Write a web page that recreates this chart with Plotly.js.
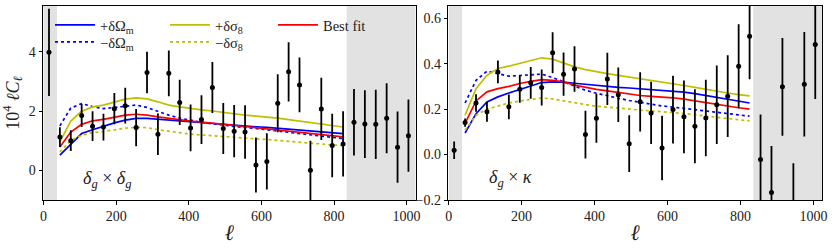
<!DOCTYPE html>
<html>
<head>
<meta charset="utf-8">
<script src="https://cdn.plot.ly/plotly-3.0.1.min.js"></script>
<style>html,body{margin:0;padding:0;background:#fff;}#chart{width:834px;height:250px;}</style>
</head>
<body>
<div id="chart"></div>
<script>
// ---- data ----
const ellData = [15,45,75,105,135,165,195,225,255,285,315,345,375,405,435,465,495,525,555,585,615,645,675,705,735,765,795,825,855,885,915,945,975,1005];
const ggVal = [3.98,1.12,1.00,1.85,1.49,1.46,2.08,2.18,1.44,3.30,1.22,3.27,2.29,1.43,1.71,2.79,1.41,1.32,1.29,0.18,0.30,2.26,3.32,2.88,0.00,2.07,0.84,0.89,1.62,1.56,1.55,1.76,0.78,1.17];
const ggErr = [1.47,0.33,0.35,0.39,0.50,0.45,0.53,0.60,0.63,0.70,0.70,0.77,0.76,0.79,0.82,0.86,0.86,0.88,0.90,0.93,0.95,0.98,1.00,0.92,1.00,1.05,1.07,1.10,1.12,1.14,1.17,1.18,1.20,1.22];
const gkVal = [0.019,0.141,0.227,0.188,0.364,0.210,0.288,0.316,0.295,0.448,0.354,0.377,0.088,0.160,0.333,0.263,0.048,0.232,0.183,0.029,0.198,0.166,0.125,0.161,0.219,0.257,0.389,0.521,-0.022,-0.167,0.298,-0.260,0.310,0.485];
const gkErr = [0.038,0.018,0.038,0.043,0.050,0.054,0.060,0.070,0.079,0.090,0.095,0.100,0.105,0.108,0.115,0.120,0.125,0.130,0.137,0.142,0.149,0.160,0.163,0.168,0.173,0.180,0.185,0.190,0.198,0.205,0.215,0.222,0.230,0.240];

const ellTheory = [45,75,105,135,165,195,225,255,285,315,345,375,405,435,465,495,525,555,585,615,645,675,705,735,765,795,825];
const ggBest   = [0.79,1.29,1.55,1.67,1.72,1.78,1.86,1.89,1.86,1.80,1.75,1.70,1.66,1.63,1.59,1.55,1.51,1.47,1.44,1.41,1.37,1.33,1.29,1.25,1.21,1.17,1.13];
const ggOmPlus = [0.51,0.88,1.24,1.37,1.49,1.60,1.69,1.75,1.75,1.72,1.70,1.67,1.64,1.61,1.58,1.55,1.52,1.49,1.47,1.45,1.42,1.39,1.36,1.33,1.30,1.27,1.24];
const ggOmMinus= [1.50,2.10,2.25,2.15,2.08,2.12,2.18,2.20,2.12,1.98,1.86,1.76,1.68,1.62,1.57,1.52,1.48,1.44,1.41,1.37,1.33,1.28,1.24,1.19,1.15,1.11,1.07];
const ggS8Plus = [0.96,1.66,1.99,2.14,2.20,2.31,2.40,2.44,2.41,2.31,2.20,2.14,2.08,2.04,2.00,1.95,1.90,1.86,1.83,1.80,1.76,1.71,1.66,1.61,1.56,1.51,1.46];
const ggS8Minus= [0.62,1.01,1.18,1.27,1.31,1.37,1.42,1.45,1.44,1.37,1.33,1.27,1.22,1.19,1.17,1.14,1.11,1.08,1.06,1.04,1.01,0.98,0.95,0.92,0.89,0.86,0.83];

const gkBest   = [0.137,0.236,0.276,0.290,0.300,0.313,0.322,0.330,0.327,0.320,0.306,0.296,0.287,0.280,0.273,0.266,0.260,0.256,0.254,0.250,0.244,0.236,0.228,0.220,0.213,0.206,0.200];
const gkOmPlus = [0.095,0.180,0.232,0.254,0.271,0.286,0.300,0.317,0.320,0.319,0.314,0.309,0.304,0.300,0.296,0.293,0.290,0.287,0.284,0.281,0.275,0.268,0.260,0.251,0.243,0.235,0.227];
const gkOmMinus= [0.227,0.327,0.367,0.357,0.345,0.348,0.350,0.354,0.339,0.320,0.300,0.283,0.270,0.258,0.248,0.238,0.229,0.221,0.214,0.209,0.203,0.196,0.190,0.184,0.178,0.173,0.169];
const gkS8Plus = [0.173,0.290,0.349,0.379,0.389,0.401,0.415,0.426,0.420,0.404,0.386,0.374,0.364,0.356,0.349,0.342,0.335,0.327,0.319,0.312,0.304,0.296,0.287,0.279,0.271,0.264,0.258];
const gkS8Minus= [0.107,0.173,0.200,0.213,0.227,0.236,0.244,0.249,0.245,0.236,0.227,0.220,0.213,0.208,0.204,0.200,0.196,0.192,0.189,0.186,0.181,0.175,0.169,0.163,0.158,0.153,0.148];

const maskedRanges = [[0, 37], [835, 1025]];
const legendLabels = ['+δΩ<sub>m</sub>', '−δΩ<sub>m</sub>', '+δσ<sub>8</sub>', '−δσ<sub>8</sub>', 'Best fit'];

// ---- layout helpers ----
const W = 834, H = 250, ML = 43, MR = 12, MT = 6, MB = 50;
const PW = W - ML - MR, PH = H - MT - MB;
const px = p => (p - ML) / PW;
const py = p => 1 - (p - MT) / PH;
const FONT = '"Liberation Serif", serif';
const BLUE = '#0000ff', YEL = '#bfbf00', RED = '#ff0000';

function line(x, y, color, dash, xa, ya, name, leg) {
  return {x: x, y: y, xaxis: xa, yaxis: ya, mode: 'lines', type: 'scatter',
    line: {color: color, width: 1.7, dash: dash}, name: name,
    showlegend: !!leg, legend: leg || 'legend', hoverinfo: 'skip'};
}
function pts(x, y, e, xa, ya) {
  return {x: x, y: y, xaxis: xa, yaxis: ya, mode: 'markers', type: 'scatter', showlegend: false,
    marker: {color: 'black', size: 5},
    error_y: {type: 'data', array: e, visible: true, color: 'black', thickness: 1.8, width: 0}};
}

const traces = [
  line(ellTheory, ggOmPlus, BLUE, 'solid', 'x', 'y', legendLabels[0], 'legend'),
  line(ellTheory, ggOmMinus, BLUE, 'dot', 'x', 'y', legendLabels[1], 'legend2'),
  line(ellTheory, ggS8Plus, YEL, 'solid', 'x', 'y', legendLabels[2], 'legend3'),
  line(ellTheory, ggS8Minus, YEL, 'dot', 'x', 'y', legendLabels[3], 'legend4'),
  line(ellTheory, ggBest, RED, 'solid', 'x', 'y', legendLabels[4], 'legend5'),
  pts(ellData, ggVal, ggErr, 'x', 'y'),
  line(ellTheory, gkOmPlus, BLUE, 'solid', 'x2', 'y2'),
  line(ellTheory, gkOmMinus, BLUE, 'dot', 'x2', 'y2'),
  line(ellTheory, gkS8Plus, YEL, 'solid', 'x2', 'y2'),
  line(ellTheory, gkS8Minus, YEL, 'dot', 'x2', 'y2'),
  line(ellTheory, gkBest, RED, 'solid', 'x2', 'y2'),
  pts(ellData, gkVal, gkErr, 'x2', 'y2')
];

const shapes = [];
[['x','y'],['x2','y2']].forEach(([xa, ya]) => {
  maskedRanges.forEach(r => shapes.push({type: 'rect', xref: xa, yref: ya + ' domain',
    x0: r[0], x1: r[1], y0: 0, y1: 1, fillcolor: '#e2e2e2', line: {width: 0}, layer: 'below'}));
});

const axisBase = {showgrid: false, zeroline: false, showline: true, linecolor: 'black', linewidth: 1,
  mirror: true, ticks: 'outside', ticklen: 3.5, tickwidth: 1, tickcolor: 'black',
  tickfont: {family: FONT, size: 14, color: '#222'}};

function leg(xp, yp) {
  return {x: px(xp), y: py(yp), xanchor: 'left', yanchor: 'middle', bgcolor: 'rgba(0,0,0,0)',
    borderwidth: 0, font: {family: FONT, size: 14.5, color: '#222'}, itemwidth: 40};
}

const layout = {
  width: W, height: H, margin: {l: ML, r: MR, t: MT, b: MB},
  paper_bgcolor: 'white', plot_bgcolor: 'white',
  font: {family: FONT, color: '#222'},
  xaxis: Object.assign({}, axisBase, {domain: [0, px(415.7)], range: [-1.5, 1025], tickvals: [0,200,400,600,800,1000],
    title: {text: '<i>ℓ</i>', font: {family: FONT, size: 22}, standoff: 1}}),
  yaxis: Object.assign({}, axisBase, {range: [-1, 5.54], tickvals: [0,2,4],
    title: {text: '10<sup>4</sup> <i>ℓC</i><sub><i>ℓ</i></sub>', font: {family: FONT, size: 18}, standoff: 6}}),
  xaxis2: Object.assign({}, axisBase, {anchor: 'y2', domain: [px(448.3), 1], range: [-1, 1023.5], tickvals: [0,200,400,600,800,1000],
    title: {text: '<i>ℓ</i>', font: {family: FONT, size: 22}, standoff: 1}}),
  yaxis2: Object.assign({}, axisBase, {anchor: 'x2', range: [-0.2, 0.654], tickvals: [-0.2,0,0.2,0.4,0.6], tickformat: '.1f'}),
  shapes: shapes,
  legend: leg(50, 25), legend2: leg(50, 42), legend3: leg(165, 25), legend4: leg(165, 42), legend5: leg(273, 25),
  annotations: [
    {xref: 'x domain', yref: 'y domain', x: 0.102, y: 0.108, xanchor: 'left', yanchor: 'middle', showarrow: false,
      text: '<i>δ</i><sub><i>g</i></sub> × <i>δ</i><sub><i>g</i></sub>', font: {family: FONT, size: 18, color: '#222'}},
    {xref: 'x2 domain', yref: 'y2 domain', x: 0.104, y: 0.11, xanchor: 'left', yanchor: 'middle', showarrow: false,
      text: '<i>δ</i><sub><i>g</i></sub> × <i>κ</i>', font: {family: FONT, size: 18, color: '#222'}}
  ]
};

Plotly.newPlot('chart', traces, layout, {displayModeBar: false, staticPlot: true});
</script>
</body>
</html>
